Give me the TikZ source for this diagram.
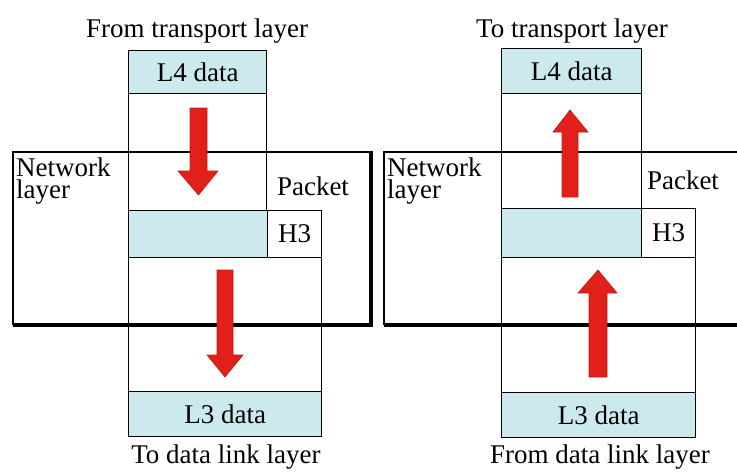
\documentclass[tikz,border=0pt]{standalone}
\usepackage{fontspec}
\setmainfont{Liberation Serif}
\definecolor{cellblue}{RGB}{204,234,238}
\definecolor{arrowred}{RGB}{226,32,26}
\begin{document}
\begin{tikzpicture}[x=1pt,y=-1pt,
  frame/.style={draw=black, line width=1.3pt},
  heavy/.style={draw=black, line width=4.5pt},
  cell/.style={frame, inner sep=0pt, anchor=north west,
    font=\fontsize{27}{22}\selectfont},
  shaded/.style={cell, fill=cellblue},
  lbl/.style={inner sep=0pt, font=\fontsize{27}{22}\selectfont},
  redarrow/.style={fill=arrowred, draw=arrowred!85!black, line width=0.6pt, line join=miter}]
\useasboundingbox (0,0) rectangle (737,472);

% ---------------- left panel ----------------
\node[lbl, anchor=base] (titleL) at (197,37) {From transport layer};
\node[shaded, minimum width=138pt, minimum height=43pt] (l4L) at (128,50) {L4 data};
\node[cell, minimum width=138pt, minimum height=117pt] (upL) at (128,93) {};
\node[shaded, minimum width=139pt, minimum height=47pt] (h3dL) at (128,210) {};
\node[cell, minimum width=54pt, minimum height=47pt] (h3L) at (267,210) {H3};
\node[cell, minimum width=193pt, minimum height=134pt] (lowL) at (128,257) {};
\node[shaded, minimum width=193pt, minimum height=45pt] (l3L) at (128,391) {L3 data};
\node[lbl, anchor=base] (botL) at (226,463) {To data link layer};
% network layer box
\draw[frame] (13,325) -- (13,152) -- (371,152);
\draw[heavy] (13,325) -- (371,325) -- (371,150.5);
\node[lbl, anchor=north west, align=left] (netL) at (16,158) {Network\\layer};
\node[lbl, anchor=base] (pktL) at (313,195) {Packet};
% arrows
\draw[redarrow] (190,108) -- (207,108) -- (207,171) -- (218,171) -- (198.5,195)
  -- (178,171) -- (190,171) -- cycle;
\draw[redarrow] (217,270) -- (233,270) -- (233,355) -- (243,355) -- (225,377)
  -- (207,355) -- (217,355) -- cycle;

% ---------------- right panel ----------------
\node[lbl, anchor=base] (titleR) at (572,37) {To transport layer};
\node[shaded, minimum width=140pt, minimum height=45pt] (l4R) at (501,48) {L4 data};
\node[cell, minimum width=140pt, minimum height=115pt] (upR) at (501,93) {};
\node[shaded, minimum width=140pt, minimum height=49pt] (h3dR) at (501,208) {};
\node[cell, minimum width=54pt, minimum height=49pt] (h3R) at (641,208) {H3};
\node[cell, minimum width=194pt, minimum height=135pt] (lowR) at (501,257) {};
\node[shaded, minimum width=194pt, minimum height=45pt] (l3R) at (501,392) {L3 data};
\node[lbl, anchor=base] (botR) at (600,463) {From data link layer};
% network layer box
\draw[frame] (384,325) -- (384,152) -- (740,152);
\draw[heavy] (384,325) -- (740,325);
\node[lbl, anchor=north west, align=left] (netR) at (387,158) {Network\\layer};
\node[lbl, anchor=base] (pktR) at (683,189) {Packet};
% arrows
\draw[redarrow] (562,197) -- (578,197) -- (578,132) -- (588,132) -- (570,110)
  -- (553,132) -- (562,132) -- cycle;
\draw[redarrow] (589,377) -- (607,377) -- (607,293) -- (617,293) -- (598,270)
  -- (578,293) -- (589,293) -- cycle;
\end{tikzpicture}
\end{document}
